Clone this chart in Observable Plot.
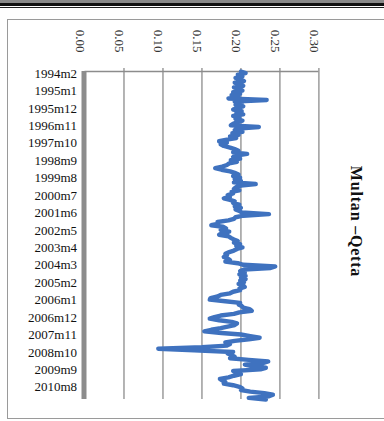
<!DOCTYPE html>
<html>
<head>
<meta charset="utf-8">
<script src="https://cdn.jsdelivr.net/npm/d3@7"></script>
<script src="https://cdn.jsdelivr.net/npm/@observablehq/plot@0.6"></script>
<style>
  html, body { margin: 0; padding: 0; background: #fff; }
  #wrap { position: relative; width: 384px; height: 421px; overflow: hidden; background: #fff; }
  .band1 { position: absolute; left: 0; top: 0; width: 384px; height: 3px; background: #8a8a8a; }
  .band2 { position: absolute; left: 0; top: 3px; width: 384px; height: 2.5px; background: #111; }
  .band3 { position: absolute; left: 0; top: 7px; width: 384px; height: 1px; background: #222; }
  .box { position: absolute; left: 7px; top: 19px; width: 380px; height: 400px; border: 1px solid #9a9a9a; box-sizing: border-box; }
  #chart { position: absolute; left: 0; top: 0; }
</style>
</head>
<body>
<div id="wrap">
  <div class="band1"></div><div class="band2"></div><div class="band3"></div>
  <div class="box"></div>
  <div id="chart"></div>
</div>
<script>
const title = "Multan \u2013Qetta";
const valueTicks = [0.00, 0.05, 0.10, 0.15, 0.20, 0.25, 0.30];
const categoryLabels = ["1994m2","1995m1","1995m12","1996m11","1997m10","1998m9","1999m8","2000m7","2001m6","2002m5","2003m4","2004m3","2005m2","2006m1","2006m12","2007m11","2008m10","2009m9","2010m8"];
const labelStep = 11;
// monthly series, starting 1994m2
const values = [
  0.200,0.206,0.196,0.202,0.193,0.199,0.204,0.192,0.198,0.203,0.191,0.197,
  0.202,0.190,0.199,0.188,0.197,0.184,0.233,0.192,0.201,0.193,0.203,0.195,
  0.190,0.201,0.194,0.203,0.190,0.198,0.193,0.202,0.195,0.190,0.187,0.223,
  0.197,0.192,0.202,0.189,0.197,0.186,0.194,0.182,0.172,0.182,0.174,0.178,
  0.186,0.192,0.197,0.190,0.208,0.194,0.190,0.199,0.187,0.195,0.185,0.182,
  0.176,0.167,0.175,0.186,0.192,0.197,0.190,0.199,0.192,0.200,0.191,0.219,
  0.200,0.194,0.191,0.198,0.188,0.190,0.183,0.186,0.178,0.186,0.192,0.190,
  0.198,0.192,0.200,0.193,0.198,0.201,0.236,0.203,0.193,0.191,0.184,0.170,
  0.171,0.162,0.177,0.181,0.174,0.185,0.176,0.172,0.184,0.187,0.191,0.196,
  0.191,0.199,0.194,0.202,0.195,0.191,0.185,0.180,0.182,0.178,0.183,0.186,
  0.180,0.196,0.203,0.244,0.238,0.204,0.199,0.205,0.198,0.206,0.200,0.206,
  0.199,0.204,0.197,0.203,0.205,0.198,0.199,0.190,0.186,0.174,0.170,0.161,
  0.160,0.180,0.199,0.197,0.201,0.203,0.211,0.214,0.198,0.191,0.174,0.166,
  0.160,0.172,0.188,0.195,0.192,0.183,0.174,0.162,0.153,0.175,0.200,0.212,
  0.224,0.210,0.192,0.180,0.186,0.182,0.150,0.094,0.140,0.190,0.183,0.188,
  0.192,0.186,0.210,0.235,0.228,0.205,0.215,0.232,0.225,0.190,0.196,0.200,
  0.191,0.184,0.173,0.176,0.180,0.178,0.190,0.198,0.202,0.200,0.212,0.230,
  0.241,0.236,0.210,0.232
];

const series = values.map((v, i) => ({i, v}));
const labelRows = categoryLabels.map((t, k) => ({i: k * labelStep, t}));
const gridTicks = valueTicks.filter(d => d > 0);

const chart = Plot.plot({
  width: 384,
  height: 421,
  marginLeft: 84.5,
  marginRight: 65.6,
  marginTop: 71,
  marginBottom: 22,
  style: {background: "transparent", fontFamily: "'Liberation Serif', 'Times New Roman', serif", fontSize: "13px", overflow: "visible"},
  x: {domain: [0, 0.30], axis: null},
  y: {domain: [0, values.length - 1], axis: null, reverse: true},
  marks: [
    Plot.ruleX(gridTicks, {stroke: "#8c8c8c", strokeWidth: 1.3, strokeOpacity: 1, insetTop: -3}),
    Plot.ruleY([0], {stroke: "#8c8c8c", strokeWidth: 1.3}),
    Plot.ruleX([0], {stroke: "#8c8c8c", strokeWidth: 5, dx: -1}),
    Plot.line(series, {x: "v", y: "i", stroke: "#3f72bf", strokeWidth: 4.4, strokeLinejoin: "round"}),
    Plot.text(valueTicks, {x: d => d, frameAnchor: "top", dy: -19, rotate: 90, textAnchor: "end", text: d => d.toFixed(2), fill: "#333", fontSize: 13}),
    Plot.text(labelRows, {y: "i", text: "t", frameAnchor: "left", dx: -8, dy: 2, textAnchor: "end", fill: "#111", fontSize: 13}),
    Plot.text([title], {text: d => d, frameAnchor: "right", dx: 37, dy: -14, rotate: 90, textAnchor: "middle", fontWeight: "bold", fontSize: 16, fill: "#111", className: "ttl"})
  ]
});
chart.querySelectorAll(".ttl text").forEach(t => t.setAttribute("letter-spacing", "0.8px"));
document.getElementById("chart").appendChild(chart);
</script>
</body>
</html>
